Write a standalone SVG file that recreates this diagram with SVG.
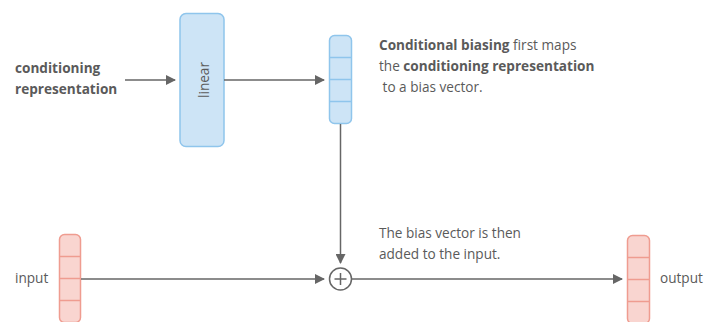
<svg xmlns="http://www.w3.org/2000/svg" width="705" height="322" viewBox="0 0 705 322">
  <defs>
    <marker id="arrow" viewBox="0 0 10 10" refX="9" refY="5" markerWidth="10" markerHeight="10" markerUnits="userSpaceOnUse" orient="auto">
      <path d="M0,0 L10,5 L0,10 z" fill="#666"/>
    </marker>
  </defs>
  <style>
    text { font-family: "Open Sans", "DejaVu Sans", sans-serif; font-size: 13.6px; fill: #5a5a5a; }
    .b { font-weight: bold; }
    .blue { fill: #cde4f6; stroke: #8fc5ec; stroke-width: 1.5; }
    .red { fill: #f9d5d0; stroke: #ef9c90; stroke-width: 1.5; }
    .cellb { stroke: #8fc5ec; stroke-width: 1.5; }
    .cellr { stroke: #ef9c90; stroke-width: 1.5; }
    .edge { stroke: #666; stroke-width: 1.5; fill: none; }
  </style>
  <rect width="705" height="322" fill="#fff"/>

  <g id="cond-label">
    <text class="b" x="15" y="73">conditioning</text>
    <text class="b" x="15" y="94">representation</text>
  </g>

  <g id="linear">
    <rect class="blue" x="180" y="13.5" width="44" height="133" rx="6"/>
    <text x="203" y="80" transform="rotate(-90 203 80)" text-anchor="middle" dominant-baseline="central">linear</text>
  </g>

  <g id="bias-vector">
    <rect class="blue" x="329.5" y="35.5" width="22" height="88" rx="5"/>
    <line class="cellb" x1="329.5" y1="57.5" x2="351.5" y2="57.5"/>
    <line class="cellb" x1="329.5" y1="79.5" x2="351.5" y2="79.5"/>
    <line class="cellb" x1="329.5" y1="101.5" x2="351.5" y2="101.5"/>
  </g>

  <g id="note-top">
    <text x="379" y="50"><tspan class="b">Conditional biasing</tspan> first maps</text>
    <text x="379" y="71">the <tspan class="b">conditioning representation</tspan></text>
    <text x="379" y="92" xml:space="preserve"> to a bias vector.</text>
  </g>

  <g id="input">
    <text x="15" y="283">input</text>
    <rect class="red" x="59.5" y="234.5" width="21" height="88" rx="5"/>
    <line class="cellr" x1="59.5" y1="256.5" x2="80.5" y2="256.5"/>
    <line class="cellr" x1="59.5" y1="278.5" x2="80.5" y2="278.5"/>
    <line class="cellr" x1="59.5" y1="300.5" x2="80.5" y2="300.5"/>
  </g>

  <g id="add">
    <circle cx="340.5" cy="279" r="11" fill="#fff" stroke="#666" stroke-width="1.5"/>
    <path d="M334.5,279 H346.5 M340.5,273 V285" stroke="#666" stroke-width="1.5"/>
  </g>

  <g id="note-bottom">
    <text x="379" y="238">The bias vector is then</text>
    <text x="379" y="259">added to the input.</text>
  </g>

  <g id="output">
    <rect class="red" x="627.5" y="235.5" width="22" height="88" rx="5"/>
    <line class="cellr" x1="627.5" y1="257.5" x2="649.5" y2="257.5"/>
    <line class="cellr" x1="627.5" y1="279.5" x2="649.5" y2="279.5"/>
    <line class="cellr" x1="627.5" y1="301.5" x2="649.5" y2="301.5"/>
    <text x="660" y="283">output</text>
  </g>

  <g id="connectors">
    <line class="edge" x1="125" y1="80" x2="175" y2="80" marker-end="url(#arrow)"/>
    <line class="edge" x1="224" y1="80" x2="324" y2="80" marker-end="url(#arrow)"/>
    <line class="edge" x1="340.5" y1="124" x2="340.5" y2="263" marker-end="url(#arrow)"/>
    <line class="edge" x1="81" y1="279" x2="324" y2="279" marker-end="url(#arrow)"/>
    <line class="edge" x1="352" y1="279" x2="622" y2="279" marker-end="url(#arrow)"/>
  </g>
</svg>
